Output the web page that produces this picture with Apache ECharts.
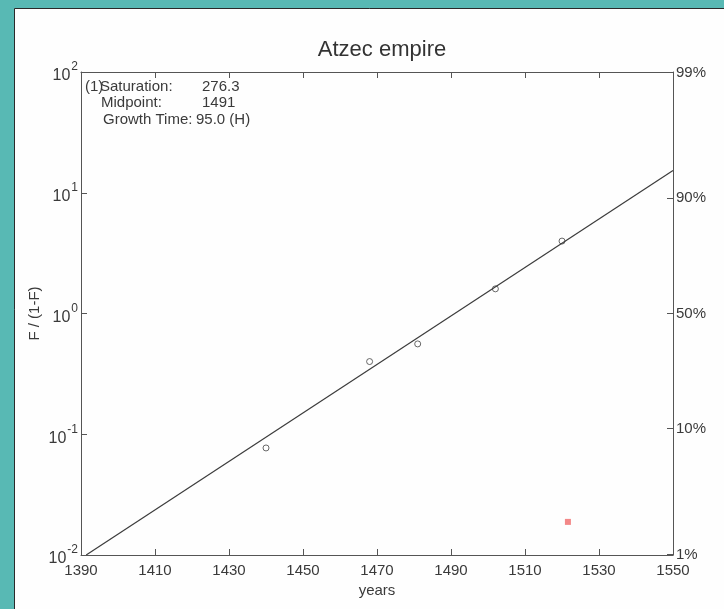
<!DOCTYPE html>
<html>
<head>
<meta charset="utf-8">
<script src="https://cdn.jsdelivr.net/npm/echarts@6/dist/echarts.min.js"></script>
<style>html,body{margin:0;padding:0;background:#58b9b4;}#chart{width:724px;height:609px;}</style>
</head>
<body>
<div id="chart"></div>
<script>
// ---- data ----
var obsYears = [1440, 1468, 1481, 1502, 1520];
var obsValues = [0.077, 0.40, 0.56, 1.60, 3.98];
var fitYears = [1391.4, 1550];
var fitValues = [0.01, 15.3];
var markerYear = [1521.6];
var markerValue = [0.0188];
var xTicks = [1390, 1410, 1430, 1450, 1470, 1490, 1510, 1530, 1550];
var leftExponents = [-2, -1, 0, 1, 2];
var rightPercents = [1, 10, 50, 90, 99];
var annotationLabels = ['Saturation:', 'Midpoint:', 'Growth Time:'];
var annotationValues = ['276.3', '1491', '95.0 (H)'];

var FONT = 'Liberation Sans, Arial, Helvetica, sans-serif';
var TXT = '#3a3a3a';
var AX = '#555';

function pairs(xs, ys) { return xs.map(function (x, i) { return [x, ys[i]]; }); }
var rightPos = rightPercents.map(function (p) { return Math.log10(p / (100 - p)); });

var chart = echarts.init(document.getElementById('chart'));
var axisCommon = {
  axisLine: { show: true, onZero: false, lineStyle: { color: AX, width: 1 } },
  splitLine: { show: false }
};
var annX = [100, 101, 103];
var annValX = [202, 202, 196];
var annY = [87, 103, 120];
var graphics = [{
  type: 'rect', z: -100, silent: true,
  shape: { x: 14.5, y: 8.5, width: 720, height: 610 },
  style: { fill: '#fefefe', stroke: '#2a2a2a', lineWidth: 1 }
}, {
  type: 'text', x: 85, y: annY[0],
  style: { text: '(1)', font: '15px ' + FONT, fill: TXT, verticalAlign: 'middle' }
}];
annotationLabels.forEach(function (l, i) {
  graphics.push({ type: 'text', x: annX[i], y: annY[i],
    style: { text: l, font: '15px ' + FONT, fill: TXT, verticalAlign: 'middle' } });
  graphics.push({ type: 'text', x: annValX[i], y: annY[i],
    style: { text: annotationValues[i], font: '15px ' + FONT, fill: TXT, verticalAlign: 'middle' } });
});

chart.setOption({
  backgroundColor: '#58b9b4',
  animation: false,
  title: {
    text: 'Atzec empire', left: 377, top: 34, textAlign: 'center',
    textStyle: { fontSize: 22, fontWeight: 'normal', color: '#333', fontFamily: FONT }
  },
  graphic: { elements: graphics },
  grid: { left: 81, right: 51, top: 72, bottom: 54, containLabel: false },
  xAxis: [Object.assign({}, axisCommon, {
    type: 'value', position: 'bottom', min: xTicks[0], max: xTicks[xTicks.length - 1],
    interval: xTicks[1] - xTicks[0],
    name: 'years', nameLocation: 'middle', nameGap: 25,
    nameTextStyle: { fontSize: 15, color: TXT, fontFamily: FONT },
    axisTick: { show: true, inside: true, length: 6, lineStyle: { color: AX } },
    axisLabel: { fontSize: 15, color: TXT, fontFamily: FONT, margin: 8,
      formatter: function (v) { return String(v); } }
  }), Object.assign({}, axisCommon, {
    type: 'value', position: 'top', min: xTicks[0], max: xTicks[xTicks.length - 1],
    interval: xTicks[1] - xTicks[0],
    axisTick: { show: true, inside: true, length: 6, lineStyle: { color: AX } },
    axisLabel: { show: false }
  })],
  yAxis: [Object.assign({}, axisCommon, {
    type: 'log', logBase: 10, position: 'left',
    min: Math.pow(10, leftExponents[0]), max: Math.pow(10, leftExponents[leftExponents.length - 1]),
    name: 'F / (1-F)', nameLocation: 'middle', nameGap: 39, nameRotate: 90, nameMoveOverlap: false,
    nameTextStyle: { fontSize: 15, color: TXT, fontFamily: FONT },
    axisTick: { show: true, inside: true, length: 6, lineStyle: { color: AX } },
    axisLabel: {
      margin: 3, color: TXT, fontFamily: FONT,
      formatter: function (v) {
        var e = Math.round(Math.log10(v));
        return '{b|10}{s|' + e + '}';
      },
      rich: {
        b: { fontSize: 16, color: TXT, fontFamily: FONT, padding: [8, 0, 0, 0] },
        s: { fontSize: 12, color: TXT, fontFamily: FONT, padding: [0, 0, 10, 1] }
      }
    }
  }), Object.assign({}, axisCommon, {
    type: 'value', position: 'right', min: leftExponents[0], max: leftExponents[leftExponents.length - 1],
    axisTick: { show: true, inside: true, length: 6, lineStyle: { color: AX }, customValues: rightPos },
    axisLabel: {
      customValues: rightPos, margin: 3, fontSize: 15, color: TXT, fontFamily: FONT,
      formatter: function (v) {
        var best = 0;
        rightPos.forEach(function (p, i) { if (Math.abs(p - v) < Math.abs(rightPos[best] - v)) best = i; });
        return rightPercents[best] + '%';
      }
    }
  })],
  series: [{
    type: 'line', xAxisIndex: 0, yAxisIndex: 0, data: pairs(fitYears, fitValues),
    symbol: 'none', silent: true,
    lineStyle: { color: '#3c3c3c', width: 1.2 }
  }, {
    type: 'scatter', xAxisIndex: 0, yAxisIndex: 0, data: pairs(obsYears, obsValues),
    symbol: 'circle', symbolSize: 6,
    itemStyle: { color: '#ffffff', borderColor: '#444', borderWidth: 1 }
  }, {
    type: 'scatter', xAxisIndex: 0, yAxisIndex: 0, data: pairs(markerYear, markerValue),
    symbol: 'rect', symbolSize: 6,
    itemStyle: { color: '#f06a6a' }
  }]
});
</script>
</body>
</html>
